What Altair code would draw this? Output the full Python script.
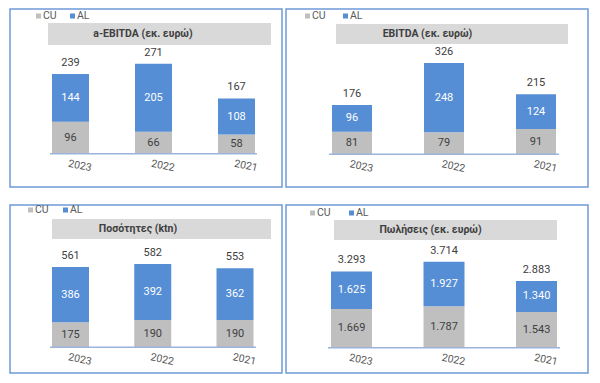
import altair as alt
import pandas as pd

# ---------------- data ----------------
YEARS = ["2023", "2022", "2021"]
SERIES = ["CU", "AL"]
TITLES = ["a-EBITDA (εκ. ευρώ)", "EBITDA (εκ. ευρώ)", "Ποσότητες (ktn)", "Πωλήσεις (εκ. ευρώ)"]

AEBITDA_CU = [96, 66, 58]
AEBITDA_AL = [144, 205, 108]
AEBITDA_TOTAL = [239, 271, 167]

EBITDA_CU = [81, 79, 91]
EBITDA_AL = [96, 248, 124]
EBITDA_TOTAL = [176, 326, 215]

VOLUME_CU = [175, 190, 190]
VOLUME_AL = [386, 392, 362]
VOLUME_TOTAL = [561, 582, 553]

SALES_CU = [1669, 1787, 1543]
SALES_AL = [1625, 1927, 1340]
SALES_TOTAL = [3293, 3714, 2883]

# ---------------- styles ----------------
GRAY = "#bfbfbf"
BLUE = "#558ed5"
TITLE_BG = "#d9d9d9"
BORDER = "#6f9bd8"
AXIS_LINE = "#9bb4d9"
DARK = "#404040"
MID = "#595959"
FONT = "Roboto"

LAYOUT = [
    dict(w=272, h=178, c0=60.5, step=83, bw=37, base=144.7, k=0.332, dmax=300,
         leg=(26, 60, 7), box=(38, 261, 14, 36), tx=133, ty=25, line=(40, 247)),
    dict(w=302, h=178, c0=66, step=92, bw=40, base=145.3, k=0.279, dmax=400,
         leg=(19, 57, 7), box=(50, 282, 15, 35), tx=141.5, ty=25, line=(43, 273)),
    dict(w=272, h=168, c0=60.5, step=82.25, bw=37, base=142.3, k=0.1431, dmax=600,
         leg=(18, 53, 5), box=(42, 261, 14, 34), tx=128, ty=24, line=(40, 246)),
    dict(w=302, h=168, c0=65.5, step=92.5, bw=41, base=142.7, k=0.02315, dmax=4000,
         leg=(24, 63, 8), box=(48, 271, 15, 35), tx=144.5, ty=25, line=(42, 274)),
]


def fmt(v):
    return f"{v:,}".replace(",", ".")


def panel(cu, al, total, title, L):
    df = pd.DataFrame({
        "year": YEARS, "cu": cu, "al": al, "total": total,
        "cu_lbl": [fmt(v) for v in cu],
        "al_lbl": [fmt(v) for v in al],
        "tot_lbl": [fmt(v) for v in total],
    })
    pi = 1 - L["bw"] / L["step"]
    xs = alt.Scale(domain=YEARS,
                   range=[L["c0"] - L["step"] / 2, L["c0"] + 2.5 * L["step"]],
                   paddingInner=pi, paddingOuter=pi / 2)
    ys = alt.Scale(domain=[0, L["dmax"]],
                   range=[L["base"], L["base"] - L["k"] * L["dmax"]], nice=False)
    X = alt.X("year:N", scale=xs, axis=None)

    def Y(f):
        return alt.Y(f, scale=ys, axis=None)

    base = alt.Chart(df).transform_calculate(
        top="datum.cu + datum.al",
        cu_mid="datum.cu / 2",
        al_mid="datum.cu + datum.al / 2",
        zero="0",
    )
    cu_bar = base.mark_bar(color=GRAY).encode(x=X, y=Y("cu:Q"), y2="zero:Q")
    al_bar = base.mark_bar(color=BLUE).encode(x=X, y=Y("top:Q"), y2="cu:Q")
    cu_txt = base.mark_text(font=FONT, fontSize=11, color=DARK).encode(
        x=X, y=Y("cu_mid:Q"), text="cu_lbl:N")
    al_txt = base.mark_text(font=FONT, fontSize=11, color="white").encode(
        x=X, y=Y("al_mid:Q"), text="al_lbl:N")
    tot_txt = base.mark_text(font=FONT, fontSize=11, color=DARK, dy=-11).encode(
        x=X, y=Y("total:Q"), text="tot_lbl:N")
    yr_txt = base.mark_text(font=FONT, fontSize=10.5, color=MID, angle=12,
                            align="left", baseline="top", dy=5).encode(
        x=X, y=Y("zero:Q"), text="year:N")

    one = alt.Data(values=[{"zero": 0}])
    axis_line = alt.Chart(one).mark_rule(color=AXIS_LINE, strokeWidth=1.5).encode(
        x=alt.value(L["line"][0]), x2=alt.value(L["line"][1]), y=Y("zero:Q"))

    bx0, bx1, by0, by1 = L["box"]
    title_box = alt.Chart(one).mark_rect(color=TITLE_BG).encode(
        x=alt.value(bx0), x2=alt.value(bx1), y=alt.value(by0), y2=alt.value(by1))
    title_txt = alt.Chart(one).mark_text(
        text=title, font=FONT, fontSize=10.5, fontWeight="bold", color=DARK).encode(
        x=alt.value(L["tx"]), y=alt.value(L["ty"]))

    cux, alx, ly = L["leg"]
    legend = []
    for name, sx, col in [(SERIES[0], cux, GRAY), (SERIES[1], alx, BLUE)]:
        legend.append(alt.Chart(one).mark_rect(color=col).encode(
            x=alt.value(sx), x2=alt.value(sx + 5), y=alt.value(ly - 2.5), y2=alt.value(ly + 2.5)))
        legend.append(alt.Chart(one).mark_text(
            text=name, font=FONT, fontSize=10.5, color=MID, align="left", baseline="middle").encode(
            x=alt.value(sx + 7), y=alt.value(ly)))

    return alt.layer(title_box, title_txt, *legend, cu_bar, al_bar, axis_line,
                     cu_txt, al_txt, tot_txt, yr_txt).properties(width=L["w"], height=L["h"])


p1 = panel(AEBITDA_CU, AEBITDA_AL, AEBITDA_TOTAL, TITLES[0], LAYOUT[0])
p2 = panel(EBITDA_CU, EBITDA_AL, EBITDA_TOTAL, TITLES[1], LAYOUT[1])
p3 = panel(VOLUME_CU, VOLUME_AL, VOLUME_TOTAL, TITLES[2], LAYOUT[2])
p4 = panel(SALES_CU, SALES_AL, SALES_TOTAL, TITLES[3], LAYOUT[3])

row1 = alt.hconcat(p1, p2, spacing=2).resolve_scale(x="independent", y="independent")
row2 = alt.hconcat(p3, p4, spacing=2).resolve_scale(x="independent", y="independent")

chart = alt.vconcat(row1, row2, spacing=16).resolve_scale(
    x="independent", y="independent"
).properties(
    padding={"left": 1, "top": 0, "right": 0, "bottom": 0},
    background="white",
).configure_view(stroke=BORDER, strokeWidth=1.5)

chart.save("out.html", embed_options={"renderer": "svg", "actions": False})
